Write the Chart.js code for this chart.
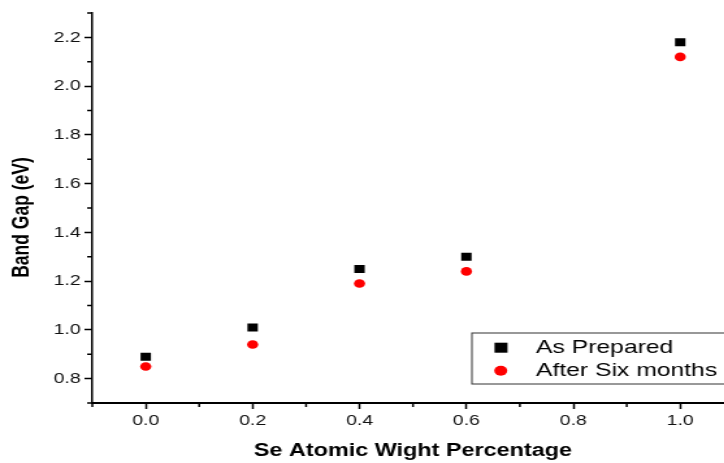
<!DOCTYPE html>
<html>
<head>
<meta charset="utf-8">
<script src="https://cdn.jsdelivr.net/npm/chart.js@4/dist/chart.umd.min.js"></script>
<style>
  html, body { margin: 0; padding: 0; background: #fff; overflow: hidden; width: 724px; height: 463px; }
  #wrap { transform: scaleX(1.3); transform-origin: 0 0; width: 570px; height: 463px; }
</style>
</head>
<body>
<div id="wrap"><canvas id="bandGapCanvas" width="570" height="463"></canvas></div>
<script>
// values
let seFraction = [0.0, 0.2, 0.4, 0.6, 1.0];
let asPrepared = [0.89, 1.01, 1.25, 1.30, 2.18];
let afterSixMonths = [0.85, 0.94, 1.19, 1.24, 2.12];

let xTicks = [0.0, 0.2, 0.4, 0.6, 0.8, 1.0];
let yTicks = [0.8, 1.0, 1.2, 1.4, 1.6, 1.8, 2.0, 2.2];
let xMinor = [-0.1, 0.1, 0.3, 0.5, 0.7, 0.9, 1.1];
let yMinor = [0.7, 0.9, 1.1, 1.3, 1.5, 1.7, 1.9, 2.1, 2.3];

let seriesNames = ["As Prepared", "After Six months"];

const FONT = "'Liberation Sans', Arial, sans-serif";
Chart.defaults.font.family = FONT;

let ctx = document.querySelector("#bandGapCanvas").getContext("2d");

// minor ticks, rotated y title and the boxed legend inside the plot
const originDecor = {
  id: "originDecor",
  afterDraw(chart) {
    const c = chart.ctx;
    const xs = chart.scales.x;
    const ys = chart.scales.y;
    const area = chart.chartArea;
    c.save();
    c.strokeStyle = "#000";
    c.lineWidth = 1.5;
    c.beginPath();
    xMinor.forEach((v) => {
      const px = xs.getPixelForValue(v);
      c.moveTo(px, area.bottom);
      c.lineTo(px, area.bottom + 4);
    });
    yMinor.forEach((v) => {
      const py = ys.getPixelForValue(v);
      c.moveTo(area.left, py);
      c.lineTo(area.left - 4, py);
    });
    c.stroke();

    // y axis title
    c.translate(17.6, 217.5);
    c.rotate(-Math.PI / 2);
    c.fillStyle = "#000";
    c.font = "bold 17.5px " + FONT;
    c.textAlign = "center";
    c.textBaseline = "middle";
    c.fillText("Band Gap (eV)", 0, 0);
    c.restore();

    // legend
    c.save();
    const lx = 363, ly = 333, lw = 230, lh = 51;
    c.strokeStyle = "#333";
    c.lineWidth = 1;
    c.strokeRect(lx, ly, lw, lh);
    c.fillStyle = "#000";
    c.fillRect(385.4 - 5, 347.7 - 5, 10, 10);
    c.fillStyle = "#ff0000";
    c.beginPath();
    c.arc(385.2, 370.7, 5, 0, Math.PI * 2);
    c.fill();
    c.fillStyle = "#000";
    c.font = "19px " + FONT;
    c.textAlign = "left";
    c.textBaseline = "middle";
    c.fillText(seriesNames[0], 412.3, 348);
    c.fillText(seriesNames[1], 412.3, 371);
    c.restore();
  },
};

new Chart(ctx, {
  type: "scatter",
  data: {
    datasets: [
      {
        label: seriesNames[0],
        data: seFraction.map((x, i) => ({ x: x, y: asPrepared[i] })),
        pointStyle: "rect",
        pointRadius: 5.66,
        pointHoverRadius: 5.66,
        backgroundColor: "#000",
        borderColor: "#000",
        borderWidth: 0,
      },
      {
        label: seriesNames[1],
        data: seFraction.map((x, i) => ({ x: x, y: afterSixMonths[i] })),
        pointStyle: "circle",
        pointRadius: 4.3,
        pointHoverRadius: 4.3,
        backgroundColor: "#ff0000",
        borderColor: "#ff0000",
        borderWidth: 0,
      },
    ],
  },
  options: {
    responsive: false,
    animation: false,
    events: [],
    layout: { padding: { top: 13, right: 5, left: 0, bottom: 0 } },
    plugins: {
      legend: { display: false },
      tooltip: { enabled: false },
    },
    scales: {
      x: {
        type: "linear",
        min: -0.1,
        max: 1.1,
        afterBuildTicks: (scale) => {
          scale.ticks = xTicks.map((v) => ({ value: v }));
        },
        afterFit: (scale) => {
          scale.height = 60;
        },
        border: { display: true, color: "#000", width: 2 },
        grid: {
          drawOnChartArea: false,
          drawTicks: true,
          tickLength: 6,
          tickColor: "#000",
          tickWidth: 1.5,
        },
        ticks: {
          color: "#111",
          font: { size: 15 },
          padding: 3,
          maxRotation: 0,
          callback: (v) => v.toFixed(1),
        },
        title: {
          display: true,
          text: "Se Atomic Wight Percentage",
          color: "#000",
          font: { size: 18, weight: "bold" },
          padding: { top: 0, bottom: 1 },
        },
      },
      y: {
        type: "linear",
        min: 0.7,
        max: 2.3,
        afterBuildTicks: (scale) => {
          scale.ticks = yTicks.map((v) => ({ value: v }));
        },
        afterFit: (scale) => {
          scale.width = 71;
        },
        border: { display: true, color: "#000", width: 1.5 },
        grid: {
          drawOnChartArea: false,
          drawTicks: true,
          tickLength: 6,
          tickColor: "#000",
          tickWidth: 1.5,
        },
        ticks: {
          color: "#111",
          font: { size: 15 },
          padding: 3,
          callback: (v) => v.toFixed(1),
        },
      },
    },
  },
  plugins: [originDecor],
});
</script>
</body>
</html>
